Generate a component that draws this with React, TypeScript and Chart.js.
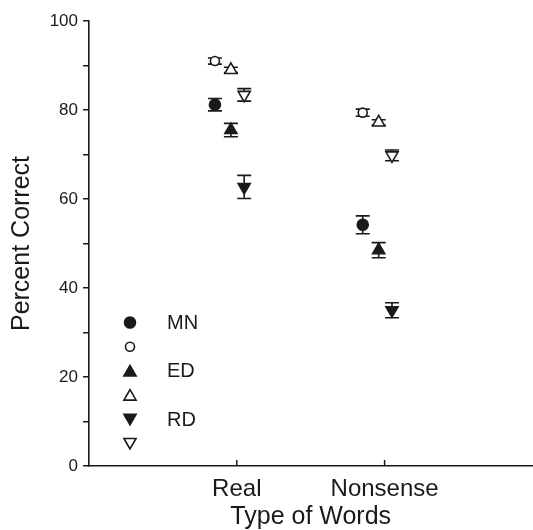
import React, { useEffect, useRef } from 'react';
import { Chart, registerables } from 'chart.js';

Chart.register(...registerables);

// ---- data ----
const categories = ['Real', 'Nonsense'];
const groupLabels = ['MN', 'ED', 'RD'];
const yTickValues = [0, 20, 40, 60, 80, 100];

// filled symbols
const mnFilled = [81.2, 54.2];
const mnFilledErr = [1.4, 2.0];
const edFilled = [75.5, 48.5];
const edFilledErr = [1.5, 1.7];
const rdFilled = [62.7, 35.0];
const rdFilledErr = [2.6, 1.7];
// open symbols
const mnOpen = [91.0, 79.4];
const mnOpenErr = [0.7, 0.8];
const edOpen = [89.0, 77.2];
const edOpenErr = [0.6, 0.6];
const rdOpen = [83.4, 69.8];
const rdOpenErr = [1.4, 1.2];

// horizontal offset of each group around the category position
const groupOffsets = [-0.148, -0.04, 0.05];

const INK = '#1a1a1a';
const FONT = "'Liberation Sans', Arial, Helvetica, sans-serif";

type Series = {
  label: string;
  values: number[];
  errs: number[];
  group: number;
  style: 'circle' | 'triangle';
  rotation: number;
  filled: boolean;
};

const series: Series[] = [
  { label: groupLabels[0], values: mnFilled, errs: mnFilledErr, group: 0, style: 'circle', rotation: 0, filled: true },
  { label: '', values: mnOpen, errs: mnOpenErr, group: 0, style: 'circle', rotation: 0, filled: false },
  { label: groupLabels[1], values: edFilled, errs: edFilledErr, group: 1, style: 'triangle', rotation: 0, filled: true },
  { label: '', values: edOpen, errs: edOpenErr, group: 1, style: 'triangle', rotation: 0, filled: false },
  { label: groupLabels[2], values: rdFilled, errs: rdFilledErr, group: 2, style: 'triangle', rotation: 180, filled: true },
  { label: '', values: rdOpen, errs: rdOpenErr, group: 2, style: 'triangle', rotation: 180, filled: false },
];

function markerRadius(s: Series) {
  if (s.style === 'circle') return s.filled ? 5.5 : 4.5;
  return 7;
}

function drawMarker(ctx: CanvasRenderingContext2D, s: Series, x: number, y: number) {
  const r = markerRadius(s);
  ctx.save();
  ctx.beginPath();
  if (s.style === 'circle') {
    ctx.arc(x, y, r, 0, Math.PI * 2);
  } else {
    let rad = (s.rotation * Math.PI) / 180;
    ctx.moveTo(x + Math.sin(rad) * r, y - Math.cos(rad) * r);
    rad += (2 * Math.PI) / 3;
    ctx.lineTo(x + Math.sin(rad) * r, y - Math.cos(rad) * r);
    rad += (2 * Math.PI) / 3;
    ctx.lineTo(x + Math.sin(rad) * r, y - Math.cos(rad) * r);
    ctx.closePath();
  }
  ctx.fillStyle = s.filled ? INK : '#ffffff';
  ctx.fill();
  ctx.lineWidth = 1.6;
  ctx.strokeStyle = INK;
  ctx.stroke();
  ctx.restore();
}

const errorBarPlugin = {
  id: 'errorBars',
  beforeDatasetsDraw(chart: any) {
    const ctx = chart.ctx as CanvasRenderingContext2D;
    const xs = chart.scales.x;
    const ys = chart.scales.y;
    ctx.save();
    ctx.strokeStyle = INK;
    ctx.lineWidth = 1.6;
    series.forEach((s) => {
      s.values.forEach((v, i) => {
        const px = xs.getPixelForValue(i + 1 + groupOffsets[s.group]);
        const top = ys.getPixelForValue(v + s.errs[i]);
        const bot = ys.getPixelForValue(v - s.errs[i]);
        const cap = 7;
        ctx.beginPath();
        ctx.moveTo(px, top);
        ctx.lineTo(px, bot);
        ctx.moveTo(px - cap, top);
        ctx.lineTo(px + cap, top);
        ctx.moveTo(px - cap, bot);
        ctx.lineTo(px + cap, bot);
        ctx.stroke();
      });
    });
    ctx.restore();
  },
};

const xTickPlugin = {
  id: 'xInwardTicks',
  afterDraw(chart: any) {
    const ctx = chart.ctx as CanvasRenderingContext2D;
    const xs = chart.scales.x;
    const bottom = chart.chartArea.bottom;
    ctx.save();
    ctx.strokeStyle = INK;
    ctx.lineWidth = 1.5;
    categories.forEach((_, i) => {
      const px = xs.getPixelForValue(i + 1);
      ctx.beginPath();
      ctx.moveTo(px, bottom);
      ctx.lineTo(px, bottom - 6);
      ctx.stroke();
    });
    ctx.restore();
  },
};

const legendPlugin = {
  id: 'innerLegend',
  afterDraw(chart: any) {
    const ctx = chart.ctx as CanvasRenderingContext2D;
    const area = chart.chartArea;
    const mx = area.left + 41;
    const tx = area.left + 78;
    const y0 = 322.5;
    const step = 24.2;
    ctx.save();
    series.forEach((s, k) => {
      const y = y0 + k * step;
      const dy = s.style === 'triangle' ? (s.rotation ? -1.5 : 1.5) : 0;
      drawMarker(ctx, s, mx, y + dy);
      if (s.label) {
        ctx.fillStyle = INK;
        ctx.font = `20px ${FONT}`;
        ctx.textBaseline = 'middle';
        ctx.textAlign = 'left';
        ctx.fillText(s.label, tx, y + 1);
      }
    });
    ctx.restore();
  },
};

export default function App() {
  const ref = useRef<HTMLCanvasElement | null>(null);

  useEffect(() => {
    if (!ref.current) return;
    const datasets = series.map((s) => ({
      label: s.label,
      data: s.values.map((v, i) => ({ x: i + 1 + groupOffsets[s.group], y: v })),
      pointStyle: s.style,
      rotation: s.rotation,
      radius: markerRadius(s),
      backgroundColor: s.filled ? INK : '#ffffff',
      borderColor: INK,
      borderWidth: 1.6,
      showLine: false,
    }));

    const chart = new Chart(ref.current, {
      type: 'scatter',
      data: { datasets },
      plugins: [errorBarPlugin, xTickPlugin, legendPlugin],
      options: {
        animation: false,
        responsive: false,
        devicePixelRatio: 1,
        layout: { padding: { top: 21, left: 0, right: 0, bottom: 0 } },
        plugins: {
          legend: { display: false },
          tooltip: { enabled: false },
        },
        scales: {
          x: {
            type: 'linear',
            min: 0,
            max: 3,
            afterBuildTicks: (scale: any) => {
              scale.ticks = categories.map((_, i) => ({ value: i + 1 }));
            },
            afterFit: (scale: any) => {
              scale.height = 64;
            },
            ticks: {
              autoSkip: false,
              maxRotation: 0,
              padding: 1,
              color: INK,
              font: { family: FONT, size: 24 },
              callback: (v: any) => categories[Number(v) - 1] ?? '',
            },
            grid: { display: false },
            border: { display: true, color: INK, width: 1.6 },
            title: {
              display: true,
              text: 'Type of Words',
              color: INK,
              font: { family: FONT, size: 25, lineHeight: 1.05 },
              padding: { top: 0, bottom: 0 },
            },
          },
          y: {
            type: 'linear',
            min: 0,
            max: 100,
            afterBuildTicks: (scale: any) => {
              const t: any[] = [];
              for (let v = 0; v <= 100; v += 10) t.push({ value: v });
              scale.ticks = t;
            },
            afterFit: (scale: any) => {
              scale.width = 89;
            },
            ticks: {
              autoSkip: false,
              padding: 5,
              color: INK,
              font: { family: FONT, size: 17 },
              callback: (v: any) => (yTickValues.includes(Number(v)) ? String(v) : ''),
            },
            grid: {
              display: true,
              drawOnChartArea: false,
              drawTicks: true,
              tickLength: 6,
              color: INK,
              lineWidth: 1.5,
            },
            border: { display: true, color: INK, width: 1.6 },
            title: {
              display: true,
              text: 'Percent Correct',
              color: INK,
              font: { family: FONT, size: 25 },
              padding: { top: 7.5, bottom: 0 },
            },
          },
        },
      },
    });
    return () => chart.destroy();
  }, []);

  // canvas is 8px wider than the window: Chart.js reserves point-overflow
  // padding on the right, so the x axis ends exactly at the window edge
  return (
    <canvas
      ref={ref}
      width={541}
      height={530}
      style={{ position: 'fixed', left: 0, top: 0, width: 541, height: 530 }}
    />
  );
}
